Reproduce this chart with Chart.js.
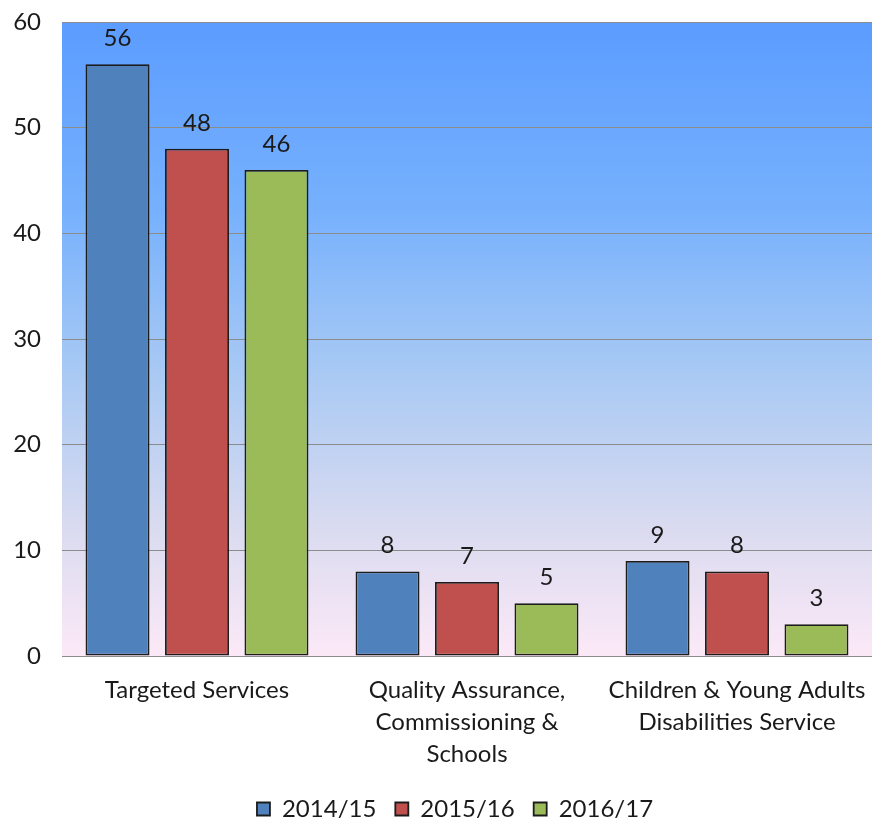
<!DOCTYPE html>
<html>
<head>
<meta charset="utf-8">
<script src="https://cdn.jsdelivr.net/npm/chart.js@4/dist/chart.umd.min.js"></script>
<style>
  html, body { margin: 0; padding: 0; background: #fff; }
  #wrap { width: 874px; height: 823px; }
</style>
</head>
<body>
<div id="wrap"><canvas id="myChart" width="874" height="823"></canvas></div>
<script>
// categories (multi-line labels) and series values
const categories = [
  ['Targeted Services'],
  ['Quality Assurance,', 'Commissioning &', 'Schools'],
  ['Children & Young Adults', 'Disabilities Service']
];
const seriesNames = ['2014/15', '2015/16', '2016/17'];
const values1415 = [56, 8, 9];
const values1516 = [48, 7, 8];
const values1617 = [46, 5, 3];
const barColors = ['#4F81BD', '#C0504D', '#9BBB59'];
const yTicks = [0, 10, 20, 30, 40, 50, 60];

const FONT = 'Lato, "Open Sans", sans-serif';

// background gradient behind the bars
const plotBackground = {
  id: 'plotBackground',
  beforeDraw(chart) {
    const { ctx, chartArea: a } = chart;
    const g = ctx.createLinearGradient(0, a.top, 0, a.bottom);
    g.addColorStop(0, '#5B9CFF');
    g.addColorStop(0.3, '#77B1FD');
    g.addColorStop(0.55, '#A8C9F4');
    g.addColorStop(0.8, '#DADBF0');
    g.addColorStop(1, '#FCE9F7');
    ctx.save();
    ctx.fillStyle = g;
    ctx.fillRect(a.left, a.top, a.right - a.left, a.bottom - a.top);
    ctx.restore();
  }
};

// value above each bar
const valueLabels = {
  id: 'valueLabels',
  afterDatasetsDraw(chart) {
    const { ctx } = chart;
    ctx.save();
    ctx.font = '24px ' + FONT;
    ctx.fillStyle = '#1a1a1a';
    ctx.textAlign = 'center';
    ctx.textBaseline = 'middle';
    chart.data.datasets.forEach((ds, i) => {
      chart.getDatasetMeta(i).data.forEach((bar, j) => {
        ctx.fillText(ds.data[j], bar.x, bar.y - 26);
      });
    });
    ctx.restore();
  }
};

// nudge the legend a bit to the right
const legendShift = {
  id: 'legendShift',
  afterLayout(chart) {
    if (chart.legend) {
      chart.legend.left += 19;
      chart.legend.right += 19;
    }
  }
};

const allValues = [values1415, values1516, values1617];

new Chart(document.getElementById('myChart').getContext('2d'), {
  type: 'bar',
  data: {
    labels: categories,
    datasets: seriesNames.map((name, i) => ({
      label: name,
      data: allValues[i],
      backgroundColor: barColors[i],
      borderColor: '#1c1c1c',
      borderWidth: 1.8,
      borderSkipped: false,
      categoryPercentage: 0.883,
      barPercentage: 0.805
    }))
  },
  options: {
    responsive: false,
    animation: false,
    layout: { padding: { top: 22, right: 2, left: 0, bottom: -8 } },
    plugins: {
      legend: {
        position: 'bottom',
        labels: {
          font: { family: FONT, size: 24 },
          color: '#1a1a1a',
          boxWidth: 13,
          boxHeight: 13,
          padding: 19,
          useBorderRadius: false
        }
      },
      tooltip: { enabled: false }
    },
    scales: {
      x: {
        grid: { display: false },
        border: { display: false },
        ticks: {
          font: { family: FONT, size: 24, lineHeight: 1.33 },
          color: '#1a1a1a',
          padding: 10,
          maxRotation: 0,
          autoSkip: false
        },
        afterFit(axis) {
          axis.height = 122;
          axis.paddingLeft = 0;
          axis.paddingRight = 0;
        }
      },
      y: {
        min: 0,
        max: 60,
        afterBuildTicks(axis) { axis.ticks = yTicks.map(v => ({ value: v })); },
        grid: { color: '#8c8c8c', lineWidth: 1, drawTicks: false },
        border: { display: false },
        ticks: {
          font: { family: FONT, size: 24 },
          color: '#1a1a1a',
          padding: 21
        },
        afterFit(axis) {
          axis.width = 62;
          axis.paddingTop = 0;
          axis.paddingBottom = 0;
        }
      }
    }
  },
  plugins: [plotBackground, valueLabels, legendShift]
});
</script>
</body>
</html>
